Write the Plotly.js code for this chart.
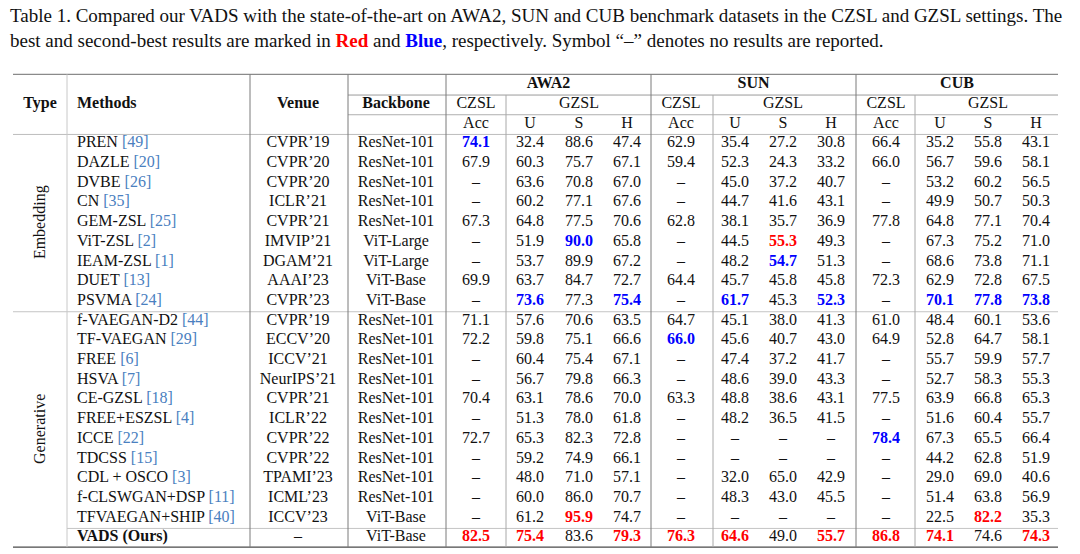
<!DOCTYPE html>
<html>
<head>
<meta charset="utf-8">
<script src="https://cdn.plot.ly/plotly-3.0.1.min.js"></script>
<style>html,body{margin:0;padding:0;background:#fff;}#chart{width:1080px;height:554px;}</style>
</head>
<body>
<div id="chart"></div>
<script>
// ---------------- DATA ----------------
const methodNames = ['PREN','DAZLE','DVBE','CN','GEM-ZSL','ViT-ZSL','IEAM-ZSL','DUET','PSVMA',
  'f-VAEGAN-D2','TF-VAEGAN','FREE','HSVA','CE-GZSL','FREE+ESZSL','ICCE','TDCSS','CDL + OSCO',
  'f-CLSWGAN+DSP','TFVAEGAN+SHIP','VADS (Ours)'];
const methodRefs = ['49','20','26','35','25','2','1','13','24','44','29','6','7','18','4','22','15','3','11','40',''];
const venues = ['CVPR’19','CVPR’20','CVPR’20','ICLR’21','CVPR’21','IMVIP’21','DGAM’21','AAAI’23','CVPR’23',
  'CVPR’19','ECCV’20','ICCV’21','NeurIPS’21','CVPR’21','ICLR’22','CVPR’22','CVPR’22','TPAMI’23','ICML’23','ICCV’23','–'];
const backbones = ['ResNet-101','ResNet-101','ResNet-101','ResNet-101','ResNet-101','ViT-Large','ViT-Large','ViT-Base','ViT-Base',
  'ResNet-101','ResNet-101','ResNet-101','ResNet-101','ResNet-101','ResNet-101','ResNet-101','ResNet-101','ResNet-101','ResNet-101','ViT-Base','ViT-Base'];
const typeGroups = ['Embedding','Generative'];
const typeGroupRows = [[0,8],[9,20]];

const awa2Acc = [74.1,67.9,null,null,67.3,null,null,69.9,null,71.1,72.2,null,null,70.4,null,72.7,null,null,null,null,82.5];
const awa2U   = [32.4,60.3,63.6,60.2,64.8,51.9,53.7,63.7,73.6,57.6,59.8,60.4,56.7,63.1,51.3,65.3,59.2,48.0,60.0,61.2,75.4];
const awa2S   = [88.6,75.7,70.8,77.1,77.5,90.0,89.9,84.7,77.3,70.6,75.1,75.4,79.8,78.6,78.0,82.3,74.9,71.0,86.0,95.9,83.6];
const awa2H   = [47.4,67.1,67.0,67.6,70.6,65.8,67.2,72.7,75.4,63.5,66.6,67.1,66.3,70.0,61.8,72.8,66.1,57.1,70.7,74.7,79.3];
const sunAcc  = [62.9,59.4,null,null,62.8,null,null,64.4,null,64.7,66.0,null,null,63.3,null,null,null,null,null,null,76.3];
const sunU    = [35.4,52.3,45.0,44.7,38.1,44.5,48.2,45.7,61.7,45.1,45.6,47.4,48.6,48.8,48.2,null,null,32.0,48.3,null,64.6];
const sunS    = [27.2,24.3,37.2,41.6,35.7,55.3,54.7,45.8,45.3,38.0,40.7,37.2,39.0,38.6,36.5,null,null,65.0,43.0,null,49.0];
const sunH    = [30.8,33.2,40.7,43.1,36.9,49.3,51.3,45.8,52.3,41.3,43.0,41.7,43.3,43.1,41.5,null,null,42.9,45.5,null,55.7];
const cubAcc  = [66.4,66.0,null,null,77.8,null,null,72.3,null,61.0,64.9,null,null,77.5,null,78.4,null,null,null,null,86.8];
const cubU    = [35.2,56.7,53.2,49.9,64.8,67.3,68.6,62.9,70.1,48.4,52.8,55.7,52.7,63.9,51.6,67.3,44.2,29.0,51.4,22.5,74.1];
const cubS    = [55.8,59.6,60.2,50.7,77.1,75.2,73.8,72.8,77.8,60.1,64.7,59.9,58.3,66.8,60.4,65.5,62.8,69.0,63.8,82.2,74.6];
const cubH    = [43.1,58.1,56.5,50.3,70.4,71.0,71.1,67.5,73.8,53.6,58.1,57.7,55.3,65.3,55.7,66.4,51.9,40.6,56.9,35.3,74.3];

// best (rank 1) and second-best (rank 2) cells: [row, column key]
const bestCells = [[20,'awa2Acc'],[20,'awa2U'],[19,'awa2S'],[20,'awa2H'],[20,'sunAcc'],[20,'sunU'],[5,'sunS'],[20,'sunH'],
  [20,'cubAcc'],[20,'cubU'],[19,'cubS'],[20,'cubH']];
const secondCells = [[0,'awa2Acc'],[8,'awa2U'],[5,'awa2S'],[8,'awa2H'],[10,'sunAcc'],[8,'sunU'],[6,'sunS'],[8,'sunH'],
  [15,'cubAcc'],[8,'cubU'],[8,'cubS'],[8,'cubH']];

const datasets = ['AWA2','SUN','CUB'];
const subHeads = ['Acc','U','S','H'];

// ---------------- LAYOUT CONFIG ----------------
const FONT = '"Liberation Serif","Times New Roman",Times,serif';
const TXT = '#111111';
const RED = '#ff0000', BLUE = '#0000ff', REFC = '#4a80c0';
const FS = 16;
const colX = {type:40, method:77, venue:298, backbone:396,
  awa2Acc:476, awa2U:530, awa2S:579, awa2H:627,
  sunAcc:681, sunU:735, sunS:783, sunH:831,
  cubAcc:886, cubU:940, cubS:988, cubH:1036};
const numCols = [
  ['awa2Acc',awa2Acc],['awa2U',awa2U],['awa2S',awa2S],['awa2H',awa2H],
  ['sunAcc',sunAcc],['sunU',sunU],['sunS',sunS],['sunH',sunH],
  ['cubAcc',cubAcc],['cubU',cubU],['cubS',cubS],['cubH',cubH]];
const xL = 13, xR = 1058;
const vMajor = [250, 348, 446, 651, 856];
const vMinor = [506, 713, 915];
const rows = methodNames.map((_, i) => i);

// ---------------- TRACES ----------------
const traces = [];
function textTrace(xs, ys, texts, colors, pos) {
  traces.push({type:'scatter', mode:'text', x:xs, y:ys, text:texts, textposition:pos,
    textfont:{family:FONT, size:FS, color:colors}, hoverinfo:'skip', showlegend:false, cliponaxis:false});
}
// methods
textTrace(rows.map(()=>colX.method), rows,
  methodNames.map((m,i)=> i===20 ? '<b>'+m+'</b>' : m + (methodRefs[i] ? ' <span style="color:'+REFC+'">['+methodRefs[i]+']</span>' : '')),
  TXT, 'middle right');
textTrace(rows.map(()=>colX.venue), rows, venues, TXT, 'middle center');
textTrace(rows.map(()=>colX.backbone), rows, backbones, TXT, 'middle center');
numCols.forEach(([key, vals]) => {
  const texts = [], colors = [];
  vals.forEach((v, i) => {
    const isBest = bestCells.some(c => c[0]===i && c[1]===key);
    const isSecond = secondCells.some(c => c[0]===i && c[1]===key);
    const s = v == null ? '–' : v.toFixed(1);
    texts.push(isBest||isSecond ? '<b>'+s+'</b>' : s);
    colors.push(isBest ? RED : isSecond ? BLUE : TXT);
  });
  textTrace(vals.map(()=>colX[key]), rows, texts, colors, 'middle center');
});
// header rows
const hx = [colX.type, colX.venue, colX.backbone];
textTrace(hx, hx.map(()=>-2), ['<b>Type</b>','<b>Venue</b>','<b>Backbone</b>'], TXT, 'middle center');
textTrace([colX.method], [-2], ['<b>Methods</b>'], TXT, 'middle right');
const dsKeys = ['awa2','sun','cub'];
const dsCenters = [ (446+651)/2, (651+856)/2, (856+xR)/2 ];
textTrace(dsCenters, dsCenters.map(()=>-3), datasets.map(d=>'<b>'+d+'</b>'), TXT, 'middle center');
const czX = [], czT = [], gzX = [], gzT = [], sx = [], st = [];
dsKeys.forEach(k => {
  czX.push(colX[k+'Acc']); czT.push('CZSL');
  gzX.push(colX[k+'S']); gzT.push('GZSL');
  subHeads.forEach(h => { sx.push(colX[k+h]); st.push(h); });
});
textTrace(czX.concat(gzX), czX.concat(gzX).map(()=>-2), czT.concat(gzT), TXT, 'middle center');
textTrace(sx, sx.map(()=>-1), st, TXT, 'middle center');

// ---------------- SHAPES ----------------
const shapes = [];
function hline(y, x0, x1, color, w) {
  shapes.push({type:'line', xref:'x', yref:'y', x0:x0, x1:x1, y0:y, y1:y, line:{color:color, width:w}});
}
function vline(x, y0, y1, color, w) {
  shapes.push({type:'line', xref:'x', yref:'y', x0:x, x1:x, y0:y0, y1:y1, line:{color:color, width:w}});
}
const yTop = -3.5, yBot = 20.5;
hline(yTop, xL, xR, '#8a8a8a', 1.3);
hline(-2.45, 348, xR, '#9a9a9a', 1);
hline(-1.45, 348, xR, '#b0b0b0', 1);
hline(-0.45, xL, xR, '#bdbdbd', 1);
hline(8.55, xL, xR, '#c4c4c4', 1);
hline(19.55, 67, xR, '#c4c4c4', 1);
hline(yBot, xL, xR, '#4a4a4a', 1.4);
vline(67, yTop, yBot, '#c8c8c8', 1);
vMajor.forEach(x => vline(x, yTop, yBot, '#7a7a7a', 1));
vMinor.forEach(x => vline(x, -2.45, yBot, '#a8a8a8', 1));

// ---------------- ANNOTATIONS ----------------
const annotations = [];
typeGroups.forEach((g, i) => {
  annotations.push({xref:'x', yref:'y', x:colX.type, y:(typeGroupRows[i][0]+typeGroupRows[i][1])/2,
    text:g, textangle:-90, showarrow:false, font:{family:FONT, size:FS, color:TXT}});
});
const capFont = {family:FONT, size:19, color:TXT};
annotations.push({xref:'paper', yref:'paper', x:0.0075, y:1-15/554, xanchor:'left', yanchor:'middle', showarrow:false, align:'left',
  text:'Table 1. Compared our VADS with the state-of-the-art on AWA2, SUN and CUB benchmark datasets in the CZSL and GZSL settings. The', font:capFont});
annotations.push({xref:'paper', yref:'paper', x:0.0075, y:1-40/554, xanchor:'left', yanchor:'middle', showarrow:false, align:'left',
  text:'best and second-best results are marked in <b><span style="color:'+RED+'">Red</span></b> and <b><span style="color:'+BLUE+'">Blue</span></b>, respectively. Symbol “–” denotes no results are reported.', font:capFont});

// row r sits at pixel 143.3 + 19.7*r
const r0 = -143.3/19.7, r1 = (554-143.3)/19.7;
const layout = {
  width:1080, height:554, margin:{l:0, r:0, t:0, b:0},
  paper_bgcolor:'#ffffff', plot_bgcolor:'#ffffff',
  xaxis:{range:[0,1080], visible:false, fixedrange:true},
  yaxis:{range:[r1, r0], visible:false, fixedrange:true},
  shapes:shapes, annotations:annotations, showlegend:false
};
Plotly.newPlot('chart', traces, layout, {staticPlot:true, displayModeBar:false});
</script>
</body>
</html>
